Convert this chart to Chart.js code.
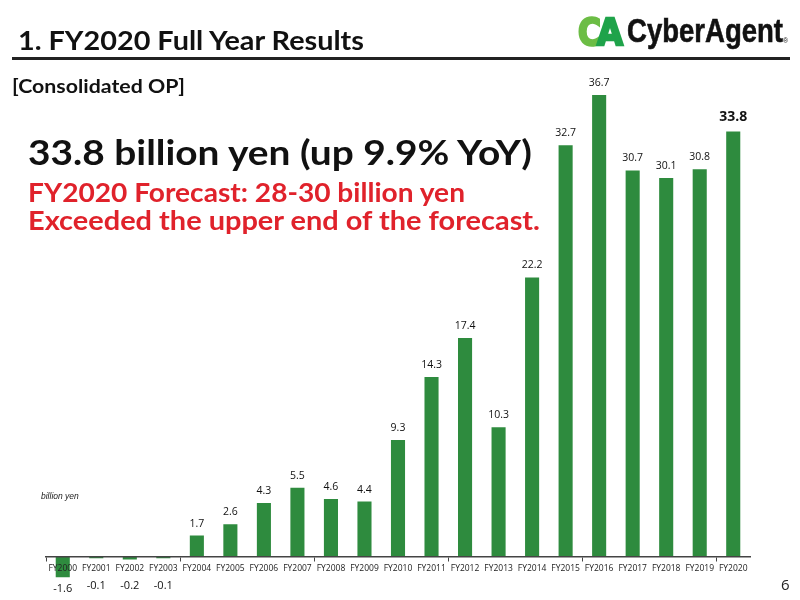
<!DOCTYPE html>
<html>
<head>
<meta charset="utf-8">
<script src="https://cdn.jsdelivr.net/npm/chart.js@4.4.0/dist/chart.umd.min.js"></script>
<style>
html,body{margin:0;padding:0;background:#fff;}
#wrap{position:relative;width:800px;height:600px;overflow:hidden;background:#fff;}
#c{position:absolute;left:0;top:0;}
.t{position:absolute;white-space:nowrap;line-height:1;transform-origin:0 0;font-family:Lato,"Noto Sans",sans-serif;font-weight:700;}
</style>
</head>
<body>
<div id="wrap">
<canvas id="c" width="800" height="600"></canvas>
<div class="t" data-w="346" style="left:18px;top:27px;font-size:26px;color:#111;">1. FY2020 Full Year Results</div>
<div style="position:absolute;left:12px;top:57px;width:778px;height:3px;background:#222;"></div>
<div class="t" data-w="173" style="left:12px;top:76px;font-size:19px;color:#111;">[Consolidated OP]</div>
<div class="t" data-w="504" style="left:28px;top:134px;font-size:35px;color:#111;">33.8 billion yen (up 9.9% YoY)</div>
<div class="t" data-w="437" style="left:28px;top:179px;font-size:26px;color:#e0222b;">FY2020 Forecast: 28-30 billion yen</div>
<div class="t" data-w="512" style="left:28px;top:207px;font-size:26px;color:#e0222b;">Exceeded the upper end of the forecast.</div>
<div class="t" style="left:41px;top:492px;font-size:8.5px;font-weight:400;font-style:italic;font-family:'Liberation Sans',sans-serif;color:#222;">billion yen</div>
<div class="t" style="left:781px;top:577px;font-size:15px;font-weight:400;font-family:'Open Sans',sans-serif;color:#222;">6</div>
<div class="t" data-w="23" style="left:578px;top:13px;font-size:38px;font-weight:900;font-family:'DejaVu Sans',sans-serif;color:#6cbd45;-webkit-text-stroke:2.5px #6cbd45;">C</div>
<div class="t" data-w="26" style="left:597px;top:13px;font-size:38px;font-weight:900;font-family:'DejaVu Sans',sans-serif;color:#1fa34a;-webkit-text-stroke:2.5px #1fa34a;">A</div>
<div class="t" data-w="156" style="left:627px;top:14px;font-size:33px;font-family:'Liberation Sans',Arial,sans-serif;color:#111;-webkit-text-stroke:0.6px #111;">CyberAgent</div>
<div class="t" style="left:783px;top:37px;font-size:7px;font-weight:400;font-family:'Liberation Sans',sans-serif;color:#111;">®</div>
</div>
<script>
const categories = ["FY2000","FY2001","FY2002","FY2003","FY2004","FY2005","FY2006","FY2007","FY2008","FY2009","FY2010","FY2011","FY2012","FY2013","FY2014","FY2015","FY2016","FY2017","FY2018","FY2019","FY2020"];
const opValues = [-1.6,-0.1,-0.2,-0.1,1.7,2.6,4.3,5.5,4.6,4.4,9.3,14.3,17.4,10.3,22.2,32.7,36.7,30.7,30.1,30.8,33.8];
const valueLabels = ["-1.6","-0.1","-0.2","-0.1","1.7","2.6","4.3","5.5","4.6","4.4","9.3","14.3","17.4","10.3","22.2","32.7","36.7","30.7","30.1","30.8","33.8"];

// fit text widths
document.querySelectorAll('.t[data-w]').forEach(el=>{
  const w = el.getBoundingClientRect().width;
  const target = parseFloat(el.dataset.w);
  el.style.transform = 'scaleX(' + (target / w) + ')';
});

const labelPlugin = {
  id: 'valueLabels',
  afterDatasetsDraw(chart) {
    const ctx = chart.ctx;
    const meta = chart.getDatasetMeta(0);
    const yScale = chart.scales.y;
    const zeroY = yScale.getPixelForValue(0);
    ctx.save();
    ctx.textAlign = 'center';
    ctx.textBaseline = 'middle';
    ctx.fillStyle = '#111';
    meta.data.forEach((bar, i) => {
      const v = opValues[i];
      const last = i === opValues.length - 1;
      if (last) {
        ctx.font = 'bold 14px "Open Sans", sans-serif';
        ctx.fillText(valueLabels[i], bar.x, bar.y - 14);
      } else if (v >= 0) {
        ctx.font = '10.5px "Open Sans", sans-serif';
        ctx.fillText(valueLabels[i], bar.x, bar.y - 12);
      } else {
        ctx.font = '11px "Open Sans", sans-serif';
        const y = Math.max(bar.y + 12, zeroY + 28.5);
        ctx.fillText(valueLabels[i], bar.x, y);
      }
    });
    ctx.restore();
  }
};

new Chart(document.getElementById('c'), {
  type: 'bar',
  data: {
    labels: categories,
    datasets: [{
      data: opValues,
      backgroundColor: '#2e8b3e',
      borderWidth: 0,
      categoryPercentage: 1.0,
      barPercentage: 0.42
    }]
  },
  options: {
    responsive: false,
    animation: false,
    devicePixelRatio: 1,
    layout: { padding: { left: 46, right: 50, top: 53.4, bottom: 17.8 } },
    plugins: { legend: { display: false }, tooltip: { enabled: false } },
    scales: {
      y: { display: false, min: -2, max: 40 },
      x: {
        position: { y: 0 },
        offset: true,
        border: { display: true, color: '#444', width: 1.5, z: 1 },
        grid: {
          offset: true,
          z: 1,
          drawOnChartArea: false,
          drawTicks: true,
          tickLength: 4,
          color: (ctx) => (ctx.index !== undefined && ctx.index % 4 === 0) ? '#444' : 'rgba(0,0,0,0)'
        },
        ticks: {
          z: 1,
          color: '#222',
          font: { family: '"Open Sans", sans-serif', size: 8.5 },
          maxRotation: 0,
          autoSkip: false,
          padding: 2
        }
      }
    }
  },
  plugins: [labelPlugin]
});
</script>
</body>
</html>
